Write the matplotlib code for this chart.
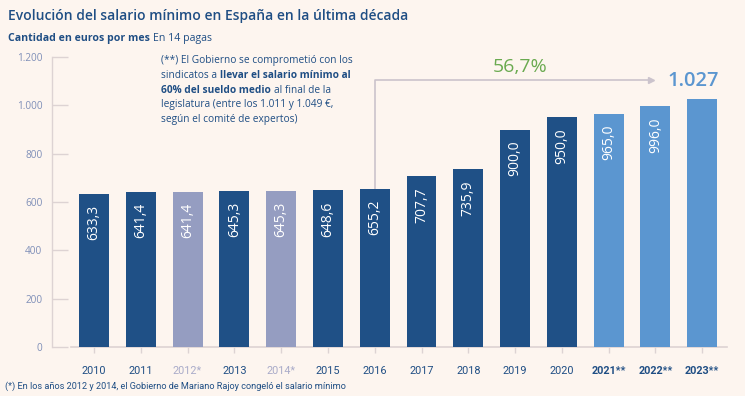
import matplotlib
matplotlib.use("Agg")
import matplotlib.pyplot as plt
import matplotlib.transforms as mtransforms
from matplotlib import font_manager

years = ["2010", "2011", "2012*", "2013", "2014*", "2015", "2016", "2017",
         "2018", "2019", "2020", "2021**", "2022**", "2023**"]
salary = [633.3, 641.4, 641.4, 645.3, 645.3, 648.6, 655.2, 707.7,
          735.9, 900.0, 950.0, 965.0, 996.0, 1027.0]
bar_labels = ["633,3", "641,4", "641,4", "645,3", "645,3", "648,6", "655,2",
              "707,7", "735,9", "900,0", "950,0", "965,0", "996,0", ""]
kind = ["n", "n", "f", "n", "f", "n", "n", "n", "n", "n", "n", "p", "p", "p"]
yticks = [0, 200, 400, 600, 800, 1000, 1200]
ytick_labels = ["0", "200", "400", "600", "800", "1.000", "1.200"]
growth = "56,7%"
last_label = "1.027"

BG = "#fdf5ef"
NAVY = "#1f5086"
FROZEN = "#959dc1"
LIGHT = "#5b96d0"
GRID = "#ddd3d3"
TXT = "#1f4e84"
GREEN = "#6aaa50"
colors = {"n": NAVY, "f": FROZEN, "p": LIGHT}

names = {f.name for f in font_manager.fontManager.ttflist}
FONT = "Open Sans"
NARROW = "Liberation Sans Narrow" if "Liberation Sans Narrow" in names else "Roboto"
plt.rcParams["font.family"] = [FONT, "DejaVu Sans"]

fig = plt.figure(figsize=(7.45, 3.96), dpi=100, facecolor=BG)
ax = fig.add_axes([52/745, 49/396, 683/745, 290/396])
ax.set_facecolor(BG)

x = list(range(len(years)))
ax.bar(x, salary, width=0.64, color=[colors[k] for k in kind], zorder=3)

for i, (v, lab) in enumerate(zip(salary, bar_labels)):
    if lab:
        ax.annotate(lab, (i, v), xytext=(0, -8), textcoords="offset points",
                    rotation=90, ha="center", va="top", color="white",
                    fontsize=10, zorder=4)

ax.set_xlim(-0.897, 13.70)
ax.set_ylim(0, 1200)
for s in ["top", "right", "bottom"]:
    ax.spines[s].set_visible(False)
ax.spines["left"].set_color(GRID)
ax.spines["left"].set_linewidth(1)
ax.plot([-0.49, 13.53], [0, 0], color=GRID, lw=1.2, clip_on=False, zorder=2)

ax.set_yticks(yticks)
ax.set_yticklabels(ytick_labels)
ax.tick_params(axis="y", direction="in", length=11.5, width=1, color=GRID,
               labelcolor="#7f8fb8", labelsize=7.2, pad=7)
ax.set_xticks(x)
ax.set_xticklabels(years)
ax.tick_params(axis="x", direction="out", length=4.5, width=1, color=GRID,
               labelsize=7.5, pad=9)
for lab, k in zip(ax.get_xticklabels(), kind):
    lab.set_family([NARROW, "DejaVu Sans"])
    lab.set_fontsize(7.8)
    if k == "f":
        lab.set_color("#a9abc9")
    elif k == "p":
        lab.set_color(TXT)
        lab.set_fontweight("bold")
    else:
        lab.set_color(TXT)

# arrow from 2016 to 2023
ytop = 1105
ax.plot([6, 6, 11.9], [salary[6], ytop, ytop], color="#cbc3cc", lw=1.2, zorder=2)
ax.plot([11.9], [ytop], marker=">", markersize=4, color="#cbc3cc", zorder=2)
ax.text(9.1, 1158, growth, color=GREEN, fontsize=14, ha="center", va="center")
ax.text(12.8, 1100, last_label, color=LIGHT, fontsize=14.5, ha="center",
        va="center", fontweight="semibold")

# titles
fig.text(8/745, 1 - 16/396, "Evolución del salario mínimo en España en la última década",
         fontsize=10, fontweight="semibold", color=TXT, va="center")

renderer = fig.canvas.get_renderer()
ident = mtransforms.IdentityTransform()


def runs(x0, y0, parts, size):
    xp = x0
    space = size * 0.26 * 100 / 72
    for txt, bold in parts:
        if txt == " ":
            xp += space
            continue
        t = fig.text(xp, y0, txt, transform=ident, fontsize=size, color=TXT,
                     fontweight="bold" if bold else "normal", va="baseline")
        xp = t.get_window_extent(renderer).x1


runs(8, 396 - 41, [("Cantidad en euros por mes", True), (" ", False),
                   ("En 14 pagas", False)], 7.6)

note = [
    [("(**) El Gobierno se comprometió con los", False)],
    [("sindicatos a", False), (" ", False), ("llevar el salario mínimo al", True)],
    [("60% del sueldo medio", True), (" ", False), ("al final de la", False)],
    [("legislatura (entre los 1.011 y 1.049 €,", False)],
    [("según el comité de expertos)", False)],
]
for j, line in enumerate(note):
    runs(161, 396 - 63 - j * 14.8, line, 7.3)

fig.text(5/745, 1 - 386/396,
         "(*) En los años 2012 y 2014, el Gobierno de Mariano Rajoy congeló el salario mínimo",
         fontsize=6.6, color=TXT, va="center", family=[NARROW, "DejaVu Sans"])

fig.savefig("out.png", dpi=100, facecolor=BG)
